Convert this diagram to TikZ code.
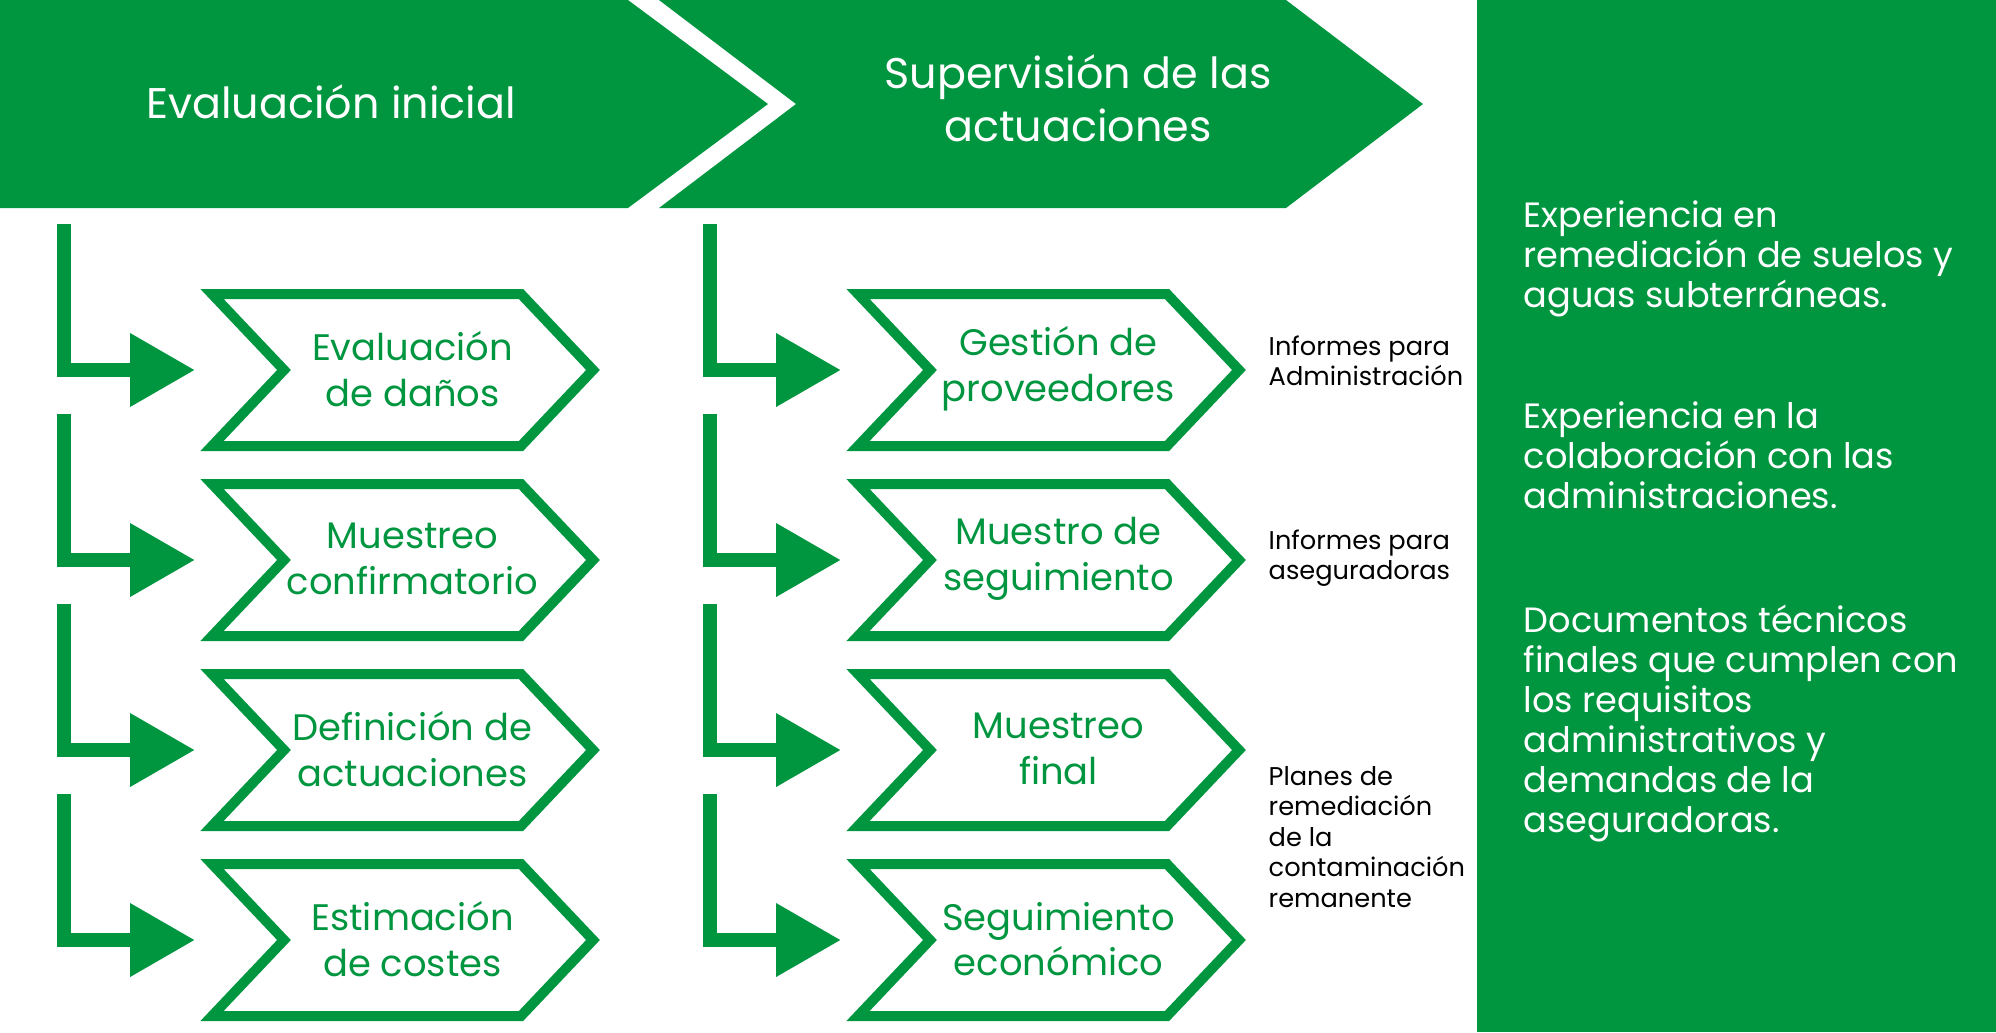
\documentclass[tikz,border=0pt]{standalone}
\usepackage{fontspec}
\setmainfont{Poppins}
\usepackage{tikz}
\usetikzlibrary{arrows.meta}
\definecolor{LeafGreen}{RGB}{0,150,64}

\begin{document}
\begin{tikzpicture}[>=Stealth,
        stage/.pic={
            \draw [LeafGreen, line width=1mm] (-1.905,0.76) -- (1.185,0.76) -- (1.905,0) -- (1.185,-0.76) -- (-1.905,-0.76) -- (-1.185,0) -- cycle;
            \node [stagetext] (-txt) at (0.10,0.01) {#1};
            \coordinate (-top) at (-3.385,1.46);
            \coordinate (-in) at (-2.075,0);
        },
        stagetext/.style={align=center, text=LeafGreen, inner sep=0pt, font=\fontsize{10.5}{13}\selectfont},
        link/.style={LeafGreen, line width=1.4mm, -{Triangle[length=6.5mm, width=7mm]}},
        note/.style={anchor=west, align=left, inner sep=0pt, font=\fontsize{7.3}{8.7}\selectfont},
        perk/.style={anchor=north west, align=left, inner sep=0pt, text=white, font=\fontsize{10}{11.4}\selectfont},
        head/.style={align=center, text=white, inner sep=0pt, font=\fontsize{12.2}{15}\selectfont}]
    \useasboundingbox (0,0) rectangle (19.96,-10.32);
    % Header bands
    \fill [LeafGreen] (0,0) -- (6.28,0) -- (7.68,-1.04) -- (6.28,-2.08) -- (0,-2.08) -- cycle;
    \fill [LeafGreen] (6.59,0) -- (12.86,0) -- (14.23,-1.04) -- (12.86,-2.08) -- (6.59,-2.08) -- (7.96,-1.04) -- cycle;
    \node [head] (hdA) at (3.31,-1.02) {Evaluación inicial};
    \node [head] (hdB) at (10.78,-0.98) {Supervisión de las\\actuaciones};
    % Side panel
    \fill [LeafGreen] (14.77,0) rectangle (19.96,-10.32);
    \node [perk] (pk1) at (15.23,-2.00) {Experiencia en\\remediación de suelos y\\aguas subterráneas.};
    \node [perk] (pk2) at (15.23,-4.01) {Experiencia en la\\colaboración con las\\administraciones.};
    \node [perk] (pk3) at (15.23,-6.04) {Documentos técnicos\\finales que cumplen con\\los requisitos\\administrativos y\\demandas de la\\aseguradoras.};
    % Stages, first column
    \pic (ev1) at (4.025,-3.70) {stage={Evaluación\\de daños}};
    \pic (ev2) at (4.025,-5.60) {stage={Muestreo\\confirmatorio}};
    \pic (ev3) at (4.025,-7.50) {stage={Definición de\\actuaciones}};
    \pic (ev4) at (4.025,-9.40) {stage={Estimación\\de costes}};
    % Stages, second column
    \pic (sp1) at (10.485,-3.70) {stage={Gestión de\\proveedores}};
    \pic (sp2) at (10.485,-5.60) {stage={Muestro de\\seguimiento}};
    \pic (sp3) at (10.485,-7.50) {stage={Muestreo\\final}};
    \pic (sp4) at (10.485,-9.40) {stage={Seguimiento\\económico}};
    % Links
    \draw [link] (ev1-top) |- (ev1-in);
    \draw [link] (ev2-top) |- (ev2-in);
    \draw [link] (ev3-top) |- (ev3-in);
    \draw [link] (ev4-top) |- (ev4-in);
    \draw [link] (sp1-top) |- (sp1-in);
    \draw [link] (sp2-top) |- (sp2-in);
    \draw [link] (sp3-top) |- (sp3-in);
    \draw [link] (sp4-top) |- (sp4-in);
    % Notes
    \node [note] (nt1) at (12.68,-3.61) {Informes para\\Administración};
    \node [note] (nt2) at (12.68,-5.58) {Informes para\\aseguradoras};
    \node [note] (nt3) at (12.68,-8.37) {Planes de\\remediación\\de la\\contaminación\\remanente};
\end{tikzpicture}
\end{document}
